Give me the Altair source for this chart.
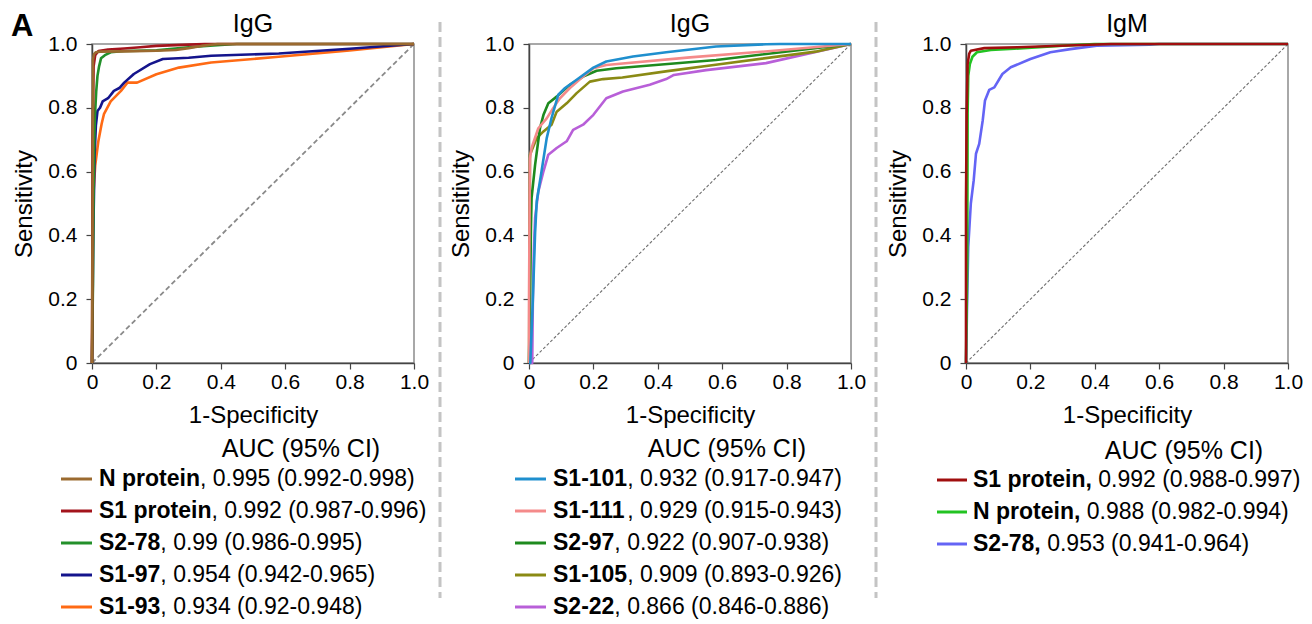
import altair as alt
import pandas as pd

FONT = "Liberation Sans"

# ---------------- Panel 1 : IgG ----------------
P1_TITLE = "IgG"
P1_NAMES = ["N protein", "S1 protein", "S2-78", "S1-97", "S1-93"]
P1_AUC = ["0.995", "0.992", "0.99", "0.954", "0.934"]
P1_CI = ["0.992-0.998", "0.987-0.996", "0.986-0.995", "0.942-0.965", "0.92-0.948"]
P1_COLORS = ["#9b6a2f", "#a3141c", "#23902a", "#14148c", "#ff6a14"]
P1_FPR = [
    [0, 0.002, 0.003, 0.006, 0.012, 0.025, 0.1, 0.2, 0.26, 0.3, 0.34, 0.39, 1.0],
    [0, 0.002, 0.005, 0.01, 0.02, 0.05, 0.1, 0.15, 0.2, 0.3, 0.35, 1.0],
    [0, 0.003, 0.005, 0.007, 0.009, 0.013, 0.017, 0.022, 0.028, 0.04, 0.058, 0.1, 0.2, 0.3, 0.4, 0.45, 1.0],
    [0, 0.004, 0.008, 0.012, 0.017, 0.025, 0.033, 0.05, 0.068, 0.085, 0.1, 0.13, 0.18, 0.22, 0.3, 0.37, 0.58, 0.8, 1.0],
    [0, 0.002, 0.004, 0.01, 0.02, 0.03, 0.037, 0.058, 0.09, 0.11, 0.14, 0.2, 0.27, 0.37, 0.58, 0.8, 1.0],
]
P1_TPR = [
    [0, 0.5, 0.95, 0.968, 0.974, 0.976, 0.977, 0.979, 0.981, 0.987, 0.994, 1.0, 1.0],
    [0, 0.7, 0.93, 0.965, 0.978, 0.983, 0.986, 0.99, 0.994, 0.998, 1.0, 1.0],
    [0, 0.25, 0.55, 0.7, 0.77, 0.85, 0.9, 0.93, 0.955, 0.965, 0.974, 0.978, 0.98, 0.99, 0.997, 1.0, 1.0],
    [0, 0.4, 0.65, 0.744, 0.79, 0.8, 0.82, 0.83, 0.853, 0.862, 0.879, 0.906, 0.937, 0.953, 0.957, 0.963, 0.97, 0.985, 1.0],
    [0, 0.3, 0.52, 0.62, 0.697, 0.75, 0.78, 0.82, 0.853, 0.879, 0.879, 0.905, 0.926, 0.942, 0.96, 0.98, 1.0],
]

# ---------------- Panel 2 : IgG ----------------
P2_TITLE = "IgG"
P2_NAMES = ["S1-101", "S1-111", "S2-97", "S1-105", "S2-22"]
P2_AUC = ["0.932", "0.929", "0.922", "0.909", "0.866"]
P2_CI = ["0.917-0.947", "0.915-0.943", "0.907-0.938", "0.893-0.926", "0.846-0.886"]
P2_COLORS = ["#1f8fce", "#f48a8a", "#1e8a1e", "#8a8a14", "#b85fd8"]
P2_FPR = [
    [0, 0.004, 0.008, 0.012, 0.016, 0.019, 0.024, 0.039, 0.055, 0.07, 0.091, 0.112, 0.148, 0.2, 0.24, 0.323, 0.426, 0.581, 0.736, 0.78, 1.0],
    [0, 0.0, 0.002, 0.003, 0.008, 0.029, 0.055, 0.075, 0.096, 0.127, 0.168, 0.2, 0.24, 0.5, 0.787, 1.0],
    [0, 0.004, 0.006, 0.008, 0.019, 0.034, 0.045, 0.06, 0.086, 0.127, 0.168, 0.21, 0.271, 0.581, 1.0],
    [0, 0.002, 0.003, 0.024, 0.045, 0.07, 0.086, 0.117, 0.148, 0.189, 0.23, 0.29, 0.43, 0.58, 0.89, 1.0],
    [0, 0.01, 0.012, 0.015, 0.019, 0.029, 0.045, 0.06, 0.086, 0.117, 0.137, 0.168, 0.2, 0.24, 0.292, 0.375, 0.426, 0.45, 0.55, 0.736, 1.0],
]
P2_TPR = [
    [0, 0.0, 0.1, 0.2, 0.32, 0.41, 0.507, 0.601, 0.705, 0.768, 0.841, 0.862, 0.888, 0.926, 0.945, 0.961, 0.974, 0.992, 0.999, 1.0, 1.0],
    [0, 0.2, 0.5, 0.642, 0.674, 0.736, 0.767, 0.799, 0.83, 0.862, 0.898, 0.924, 0.934, 0.958, 0.981, 1.0],
    [0, 0.25, 0.42, 0.518, 0.622, 0.736, 0.778, 0.814, 0.835, 0.872, 0.898, 0.916, 0.924, 0.95, 1.0],
    [0, 0.4, 0.653, 0.705, 0.726, 0.747, 0.788, 0.814, 0.846, 0.882, 0.89, 0.895, 0.915, 0.935, 0.976, 1.0],
    [0, 0.0, 0.2, 0.35, 0.455, 0.538, 0.601, 0.653, 0.674, 0.695, 0.731, 0.747, 0.778, 0.83, 0.851, 0.872, 0.89, 0.903, 0.918, 0.94, 1.0],
]

# ---------------- Panel 3 : IgM ----------------
P3_TITLE = "IgM"
P3_NAMES = ["S1 protein,", "N protein,", "S2-78,"]
P3_AUC = ["0.992", "0.988", "0.953"]
P3_CI = ["0.988-0.997", "0.982-0.994", "0.941-0.964"]
P3_COLORS = ["#a00e0e", "#22c322", "#6464f5"]
P3_FPR = [
    [0, 0.0, 0.002, 0.005, 0.01, 0.015, 0.057, 0.16, 0.36, 0.45, 1.0],
    [0, 0.004, 0.005, 0.007, 0.012, 0.02, 0.034, 0.077, 0.15, 0.3, 0.4, 1.0],
    [0, 0.002, 0.003, 0.007, 0.015, 0.024, 0.031, 0.041, 0.052, 0.059, 0.072, 0.088, 0.113, 0.139, 0.2, 0.262, 0.324, 0.406, 0.571, 0.6, 1.0],
]
P3_TPR = [
    [0, 0.5, 0.78, 0.937, 0.97, 0.979, 0.987, 0.99, 0.997, 1.0, 1.0],
    [0, 0.32, 0.781, 0.9, 0.937, 0.96, 0.974, 0.981, 0.985, 0.995, 1.0, 1.0],
    [0, 0.1, 0.167, 0.365, 0.5, 0.573, 0.656, 0.687, 0.761, 0.823, 0.856, 0.864, 0.906, 0.927, 0.953, 0.974, 0.984, 0.995, 0.998, 1.0, 1.0],
]

AXIS_TICKS = [0, 0.2, 0.4, 0.6, 0.8, 1.0]
LABEL_EXPR = "datum.value == 0 ? '0' : format(datum.value, '.1f')"

W, H = 322, 319
LEG_SIZE = 23
ROW_GAP = 32

# Liberation Sans Bold advance widths (per 1000 em)
BOLD_W = {" ": 278, ",": 278, "-": 333, ".": 278, "N": 722, "S": 667, "p": 611,
          "r": 389, "o": 611, "t": 333, "e": 556, "i": 278, "n": 611}
REG_SPACE = 278


def bold_width(s, size):
    return sum(BOLD_W.get(c, 556) for c in s) * size / 1000.0


def xenc():
    return alt.X("fpr:Q", scale=alt.Scale(domain=[0, 1], nice=False, zero=False),
                 axis=alt.Axis(values=AXIS_TICKS, labelExpr=LABEL_EXPR, title="1-Specificity",
                               grid=False, tickSize=6, labelPadding=2, titlePadding=11,
                               labelFlush=False, labelOverlap=False))


def yenc():
    return alt.Y("tpr:Q", scale=alt.Scale(domain=[0, 1], nice=False, zero=False),
                 axis=alt.Axis(values=AXIS_TICKS, labelExpr=LABEL_EXPR, title="Sensitivity",
                               grid=False, tickSize=6, labelPadding=9, titlePadding=11,
                               labelFlush=False, labelOverlap=False))


def make_panel(title, names, aucs, cis, colors, fprs, tprs, cfg):
    layers = []
    diag = pd.DataFrame({"fpr": [0.0, 1.0], "tpr": [0.0, 1.0], "idx": [0, 1]})
    layers.append(alt.Chart(diag).mark_line(color=cfg["diag_color"], strokeDash=cfg["diag_dash"],
                                            strokeWidth=cfg["diag_width"])
                  .encode(x=xenc(), y=yenc(), order="idx:Q"))
    for i in reversed(range(len(names))):
        df = pd.DataFrame({"fpr": fprs[i], "tpr": tprs[i], "idx": list(range(len(fprs[i])))})
        layers.append(alt.Chart(df).mark_line(color=colors[i], strokeWidth=2.6, strokeJoin="round")
                      .encode(x=xenc(), y=yenc(), order="idx:Q"))

    # panel title
    layers.append(alt.Chart(pd.DataFrame({"t": [title]}))
                  .mark_text(font=FONT, fontSize=25, align="center", baseline="middle", color="black")
                  .encode(x=alt.value(W / 2), y=alt.value(-20), text="t:N"))
    # legend header
    layers.append(alt.Chart(pd.DataFrame({"t": ["AUC (95% CI)"]}))
                  .mark_text(font=FONT, fontSize=25, align="center", baseline="middle", color="black")
                  .encode(x=alt.value(cfg["head_x"]), y=alt.value(cfg["head_y"]), text="t:N"))
    # legend rows
    for i, name in enumerate(names):
        y = cfg["row0"] + ROW_GAP * i
        layers.append(alt.Chart(pd.DataFrame({"n": [name]}))
                      .mark_rule(color=colors[i], strokeWidth=3)
                      .encode(x=alt.value(cfg["s0"]), x2=alt.value(cfg["s1"]), y=alt.value(y)))
        layers.append(alt.Chart(pd.DataFrame({"n": [name]}))
                      .mark_text(font=FONT, fontSize=LEG_SIZE, fontWeight="bold", align="left",
                                 baseline="middle", color="black")
                      .encode(x=alt.value(cfg["tx"]), y=alt.value(y), text="n:N"))
        rest = f"{aucs[i]} ({cis[i]})"
        if name.endswith(","):
            xr = cfg["tx"] + bold_width(name, LEG_SIZE) + REG_SPACE * LEG_SIZE / 1000.0
        else:
            rest = ", " + rest
            xr = cfg["tx"] + bold_width(name, LEG_SIZE)
        layers.append(alt.Chart(pd.DataFrame({"r": [rest]}))
                      .mark_text(font=FONT, fontSize=LEG_SIZE, align="left", baseline="middle", color="black")
                      .encode(x=alt.value(xr), y=alt.value(y), text="r:N"))
    if cfg.get("sep") is not None:
        layers.append(alt.Chart(pd.DataFrame({"s": [0]}))
                      .mark_rule(color="#c4c4c4", strokeWidth=3, strokeDash=[10, 5])
                      .encode(x=alt.value(cfg["sep"]), y=alt.value(-22), y2=alt.value(554)))
    if cfg.get("letter"):
        layers.append(alt.Chart(pd.DataFrame({"t": [cfg["letter"]]}))
                      .mark_text(font=FONT, fontSize=31, fontWeight="bold", align="left",
                                 baseline="middle", color="black")
                      .encode(x=alt.value(-81), y=alt.value(-17), text="t:N"))
    return alt.layer(*layers).properties(width=W, height=H)


p1 = make_panel(P1_TITLE, P1_NAMES, P1_AUC, P1_CI, P1_COLORS, P1_FPR, P1_TPR,
                dict(diag_color="#8a8a8a", diag_dash=[5, 3], diag_width=1.8,
                     head_x=209, head_y=405, row0=435, s0=-31, s1=0, tx=7, sep=348, letter="A"))
p2 = make_panel(P2_TITLE, P2_NAMES, P2_AUC, P2_CI, P2_COLORS, P2_FPR, P2_TPR,
                dict(diag_color="#6f6f6f", diag_dash=[3, 2], diag_width=1.1,
                     head_x=198, head_y=405, row0=435, s0=-14, s1=17, tx=24, sep=347))
p3 = make_panel(P3_TITLE, P3_NAMES, P3_AUC, P3_CI, P3_COLORS, P3_FPR, P3_TPR,
                dict(diag_color="#6f6f6f", diag_dash=[3, 2], diag_width=1.1,
                     head_x=218, head_y=407, row0=436, s0=-29, s1=1, tx=7))

chart = (
    alt.hconcat(p1, p2, p3, spacing=115, bounds="flush")
    .properties(padding={"left": 2, "top": 2, "right": 0, "bottom": 0})
    .configure_view(stroke="#8c8c8c", strokeWidth=1.5)
    .configure_axis(domainColor="#444444", domainWidth=1.5, tickColor="#444444", tickWidth=1.2,
                    labelFont=FONT, labelFontSize=21, labelColor="black",
                    titleFont=FONT, titleFontSize=24, titleFontWeight="normal", titleColor="black")
)

chart.save("out.html", embed_options={"renderer": "svg", "actions": False})
